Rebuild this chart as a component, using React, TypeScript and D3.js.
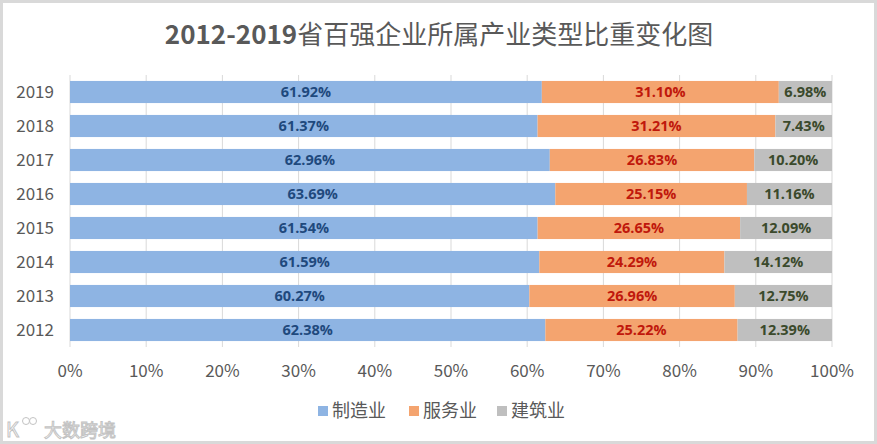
import React, { useEffect, useRef } from 'react';
import * as d3 from 'd3';

const years = ['2019', '2018', '2017', '2016', '2015', '2014', '2013', '2012'];
const manufacturing = [61.92, 61.37, 62.96, 63.69, 61.54, 61.59, 60.27, 62.38];
const services = [31.1, 31.21, 26.83, 25.15, 26.65, 24.29, 26.96, 25.22];
const construction = [6.98, 7.43, 10.2, 11.16, 12.09, 14.12, 12.75, 12.39];
const seriesNames = ['制造业', '服务业', '建筑业'];
const xTicks = [0, 10, 20, 30, 40, 50, 60, 70, 80, 90, 100];

const fills = ['#8eb4e3', '#f4a46f', '#bfbfbf'];
const labelColors = ['#1f497d', '#c0180c', '#3b4a2c'];

const W = 877;
const H = 444;

function App() {
  const svgRef = useRef<SVGSVGElement>(null);

  useEffect(() => {
    if (!svgRef.current) return;
    const svg = d3.select(svgRef.current);
    svg.selectAll('*').remove();

    const margin = { top: 75, right: 45, bottom: 97, left: 70 };
    const x = d3.scaleLinear().domain([0, 100]).range([margin.left, W - margin.right]);
    const y = d3.scaleBand()
      .domain(years)
      .range([margin.top, H - margin.bottom])
      .paddingInner(0.35)
      .paddingOuter(0.175);

    svg.append('rect')
      .attr('x', 1.5).attr('y', 1.5)
      .attr('width', W - 3).attr('height', H - 3)
      .attr('fill', '#fff')
      .attr('stroke', '#d9d9d9')
      .attr('stroke-width', 3);

    // title
    const title = svg.append('text')
      .attr('x', 439)
      .attr('y', 44)
      .attr('text-anchor', 'middle')
      .style('font-family', '"Noto Sans CJK SC", sans-serif')
      .style('font-size', '26px')
      .style('fill', '#595959');
    title.append('tspan').style('font-weight', 'bold').text('2012-2019');
    title.append('tspan').text('省百强企业所属产业类型比重变化图');

    // gridlines
    svg.append('g')
      .selectAll('line')
      .data(xTicks)
      .enter().append('line')
      .attr('x1', d => x(d)).attr('x2', d => x(d))
      .attr('y1', margin.top).attr('y2', H - margin.bottom)
      .attr('stroke', '#d9d9d9')
      .attr('stroke-width', 1);

    // x tick labels
    svg.append('g')
      .selectAll('text')
      .data(xTicks)
      .enter().append('text')
      .attr('x', d => x(d))
      .attr('y', 377)
      .attr('text-anchor', 'middle')
      .style('font-family', '"Noto Sans CJK SC", sans-serif')
      .style('font-size', '17px')
      .style('fill', '#595959')
      .text(d => `${d}%`);

    // y labels
    svg.append('g')
      .selectAll('text')
      .data(years)
      .enter().append('text')
      .attr('x', 54)
      .attr('y', d => (y(d) || 0) + y.bandwidth() / 2)
      .attr('dy', '0.36em')
      .attr('text-anchor', 'end')
      .style('font-family', '"Noto Sans CJK SC", sans-serif')
      .style('font-size', '17px')
      .style('fill', '#595959')
      .text(d => d);

    // stacked bars (100% stacked: each row normalised to its total)
    const series = [manufacturing, services, construction];
    years.forEach((yr, i) => {
      const total = d3.sum(series, vals => vals[i]);
      let acc = 0;
      series.forEach((vals, s) => {
        const v = vals[i];
        const x0 = x((acc / total) * 100);
        acc += v;
        const x1 = x((acc / total) * 100);
        svg.append('rect')
          .attr('x', x0)
          .attr('y', y(yr) || 0)
          .attr('width', x1 - x0)
          .attr('height', y.bandwidth())
          .attr('fill', fills[s]);
        svg.append('text')
          .attr('x', (x0 + x1) / 2)
          .attr('y', (y(yr) || 0) + y.bandwidth() / 2)
          .attr('dy', '0.36em')
          .attr('text-anchor', 'middle')
          .style('font-family', '"Open Sans", sans-serif')
          .style('font-size', '14.5px')
          .style('font-weight', 'bold')
          .style('fill', labelColors[s])
          .text(`${v.toFixed(2)}%`);
      });
    });

    // legend
    const legendX = [318, 409, 497];
    const legend = svg.append('g');
    seriesNames.forEach((name, s) => {
      legend.append('rect')
        .attr('x', legendX[s])
        .attr('y', 406)
        .attr('width', 10)
        .attr('height', 10)
        .attr('fill', fills[s]);
      legend.append('text')
        .attr('x', legendX[s] + 14)
        .attr('y', 417)
        .style('font-family', '"Noto Sans CJK SC", sans-serif')
        .style('font-size', '18px')
        .style('fill', '#595959')
        .text(name);
    });

    // watermark
    const wm = svg.append('g').attr('opacity', 0.9);
    wm.append('text')
      .attr('x', 6)
      .attr('y', 437)
      .style('font-family', '"Noto Sans CJK SC", sans-serif')
      .style('font-size', '20px')
      .style('fill', '#fff')
      .style('stroke', '#bdbdbd')
      .style('stroke-width', 1)
      .text('K');
    [[26, 421], [33, 421]].forEach(([cx, cy]) => {
      wm.append('circle')
        .attr('cx', cx).attr('cy', cy).attr('r', 3.5)
        .attr('fill', '#fff').attr('stroke', '#bdbdbd');
    });
    wm.append('text')
      .attr('x', 44)
      .attr('y', 437)
      .style('font-family', '"Noto Sans CJK SC", sans-serif')
      .style('font-size', '18px')
      .style('fill', '#fff')
      .style('stroke', '#bdbdbd')
      .style('stroke-width', 1)
      .text('大数跨境');
  }, []);

  return (
    <svg
      ref={svgRef}
      width={W}
      height={H}
      style={{ position: 'absolute', left: 0, top: 0, display: 'block' }}
    ></svg>
  );
}

export default App;
